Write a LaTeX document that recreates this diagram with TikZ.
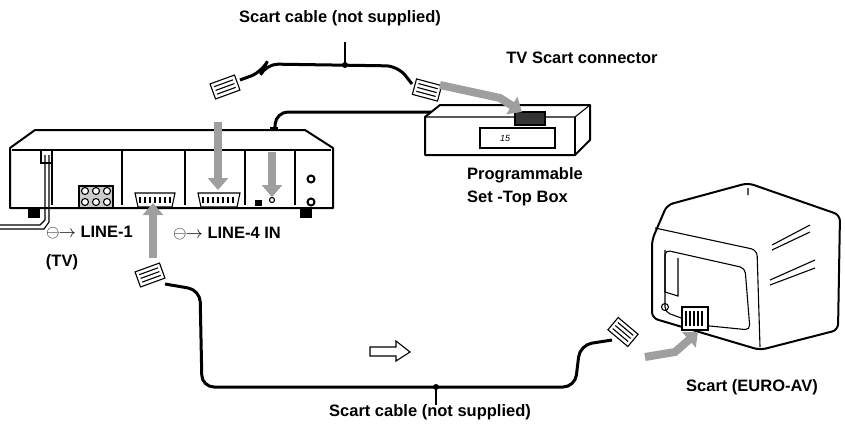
\documentclass[tikz,border=0pt]{standalone}
\usepackage{fontspec}
\setmainfont{Liberation Sans}
\usetikzlibrary{arrows.meta}
\begin{document}
\begin{tikzpicture}[x=1pt,y=-1pt,
 lbl/.style={font=\bfseries\fontsize{16.5}{23}\selectfont,align=left,inner sep=1pt},
 cable/.style={line width=3pt,rounded corners=12pt},
 garrow/.style={line width=8pt,draw=gray!75,-{Triangle[length=12pt,width=20pt]}},
 body/.style={line width=2pt,fill=white,line join=round},
 thin/.style={line width=1.1pt}]
\useasboundingbox (0,0) rectangle (845,426);
% texts
\node[lbl] (t1) at (340,18) {Scart cable (not supplied)};
\node[lbl] (t2) at (582,58) {TV Scart connector};
\node[lbl] (t3) at (525,187) {Programmable\\Set -Top Box};
\node[lbl] (t4) at (430,412) {Scart cable (not supplied)};
\node[lbl] (t5) at (752,387) {Scart (EURO-AV)};
\node[lbl,anchor=west] (t6) at (45,233) {\(\ominus\!\!\to\) LINE-1};
\node[lbl] (t7) at (62,262) {(TV)};
\node[lbl,anchor=west] (t8) at (172,234) {\(\ominus\!\!\to\) LINE-4 IN};
% top cable
\coordinate (p1) at (240,80);
\coordinate (p2) at (412,84);
\draw[cable] (p1) -- (262,72) -- (266,64) -- (398,66) -- (p2);
\draw[thin] (345,42) -- (345,65); \fill (345,65) circle (3);
\foreach \px/\py/\a in {225/87/20,427/90/-15}{
 \begin{scope}[shift={(\px,\py)},rotate=\a]
 \draw[thin,fill=white] (-13,-8) rectangle (13,8);
 \foreach \yy in {-4,0,4} \draw[thin] (-10,\yy) -- (10,\yy);
 \end{scope}}
% antenna cable
\draw[cable] (274,140) -- (276,112) -- (520,112);
\draw[thin,fill=white] (271,128) rectangle (277,145);
% set top box
\draw[body] (425,117) -- (440,105) -- (590,105) -- (590,140) -- (575,155) -- (425,155) -- cycle;
\draw[thin] (425,117) -- (575,117) -- (590,105); \draw[thin] (575,117) -- (575,155);
\draw[thin] (480,128) rectangle (555,148);
\node[font=\itshape\small] (d15) at (505,138) {15};
\draw[thin,fill=black!80] (515,112) rectangle (545,125);
\draw[garrow] (440,85) -- (500,98) -- (522,112);
% VCR
\draw[body] (10,148) -- (35,130) -- (305,130) -- (333,148) -- (333,208) -- (10,208) -- cycle;
\draw[thin] (12,150) -- (331,150);
\foreach \x in {52,122,185,245,295} \draw[thin] (\x,150) -- (\x,205);
\draw[line width=2.5pt] (10,208) -- (333,208);
\fill (28,209) rectangle (40,218); \fill (300,209) rectangle (312,218);
\draw[thin] (0,225) -- (40,225) -- (45,220) -- (45,155); \draw[thin] (0,229) -- (44,229) -- (49,222) -- (49,155);
\draw[thin] (41,150) rectangle (52,163);
\draw[thin,fill=gray!40] (79,186) rectangle (113,208);
\foreach \x in {85,96,107} \foreach \y in {191,202} \draw[thin,fill=white] (\x,\y) circle (3.5);
\draw[thin,fill=white] (135,193) -- (175,193) -- (172,207) -- (138,207) -- cycle;
\draw[thin,fill=white] (198,193) -- (240,193) -- (237,207) -- (201,207) -- cycle;
\foreach \x in {140,145,...,170} \draw[thin] (\x,197) -- (\x,203);
\foreach \x in {203,208,...,235} \draw[thin] (\x,197) -- (\x,203);
\fill (255,200) rectangle (262,206);
\draw[thin] (272,200) circle (2.5);
\draw[line width=2pt] (311,179) circle (3.5); \draw[line width=2pt] (311,202) circle (3.5);
\draw[garrow] (218,122) -- (218,190);
\draw[garrow] (272,152) -- (272,197);
\draw[garrow] (153,258) -- (153,203);
% bottom cable
\coordinate (p3) at (165,284);
\coordinate (p4) at (612,340);
\draw[cable] (p3) -- (200,290) -- (202,387) -- (575,387) -- (580,345) -- (p4);
\draw[thin] (436,387) -- (436,405); \fill (436,387) circle (3);
\foreach \px/\py/\a in {150/275/20,623/332/-40}{
 \begin{scope}[shift={(\px,\py)},rotate=\a]
 \draw[thin,fill=white] (-13,-8) rectangle (13,8);
 \foreach \yy in {-4,0,4} \draw[thin] (-10,\yy) -- (10,\yy);
 \end{scope}}
\draw[thin] (370,347) -- (396,347) -- (396,341) -- (410,352) -- (396,361) -- (396,356) -- (370,356) -- cycle;
% TV
\draw[body,rounded corners=6pt] (667,205) -- (748,183) -- (840,215) -- (838,330) -- (760,350) -- (652,318) -- (652,240) -- cycle;
\draw[thin,rounded corners=6pt] (655,228) -- (757,250) -- (760,347);
\draw[thin] (748,188) -- (748,195) (772,245) -- (810,225) (772,250) -- (810,232) (770,280) -- (815,260) (770,285) -- (815,268);
\draw[thin,rounded corners=5pt] (665,250) -- (745,268) -- (750,330) -- (700,325) -- (665,312) -- cycle;
\draw[thin] (665,250) -- (665,292) -- (678,296) -- (678,258);
\draw[thin,fill=white] (682,307) rectangle (708,330);
\foreach \x in {686,690,...,704} \draw[thin] (\x,311) -- (\x,326);
\draw[thin] (665,307) circle (3.5);
\draw[garrow] (645,357) -- (675,352) -- (698,332);
\end{tikzpicture}
\end{document}
